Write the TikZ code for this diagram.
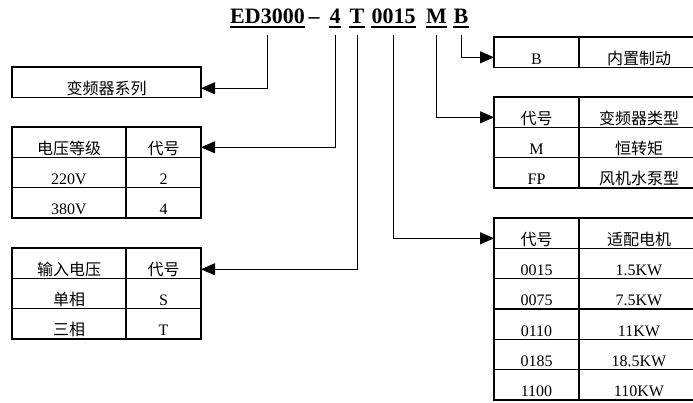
\documentclass[tikz,border=0pt]{standalone}
\usepackage{fontspec}
\setmainfont{Liberation Serif}
\newfontfamily\cjk{Noto Sans CJK SC}
\usetikzlibrary{arrows.meta,positioning}

\tikzset{
  cell/.style={draw, line width=1.4pt, inner sep=0pt, outer sep=0pt,
    minimum height=30.3pt, text height=24pt, text depth=0pt,
    font=\fontsize{16}{16}\selectfont},
  wl/.style={minimum width=114pt},
  wr/.style={minimum width=75pt},
  rl/.style={minimum width=85pt},
  rr/.style={minimum width=120pt},
  code/.style={inner sep=0pt, anchor=base, font=\fontsize{22}{22}\selectfont\bfseries},
  uline/.style={line width=2.2pt},
  link/.style={line width=0.9pt, -{Triangle[length=14pt,width=12pt]}}
}

\begin{document}
\begin{tikzpicture}[x=1pt, y=-1pt]
  \useasboundingbox (0,0) rectangle (693,402);

  % model code
  \node[code] (ed) at (267.5,23) {ED3000};
  \node[code] (dash) at (314,23) {--};
  \node[code] (volt) at (335,23) {4};
  \node[code] (inp) at (357,23) {T};
  \node[code] (pow) at (393.5,23) {0015};
  \node[code] (typ) at (436.5,23) {M};
  \node[code] (brk) at (461,23) {B};
  \foreach \n in {ed,volt,inp,pow,typ,brk}
    \draw[uline] ([yshift=-3.7pt]\n.base west) -- ([yshift=-3.7pt]\n.base east);
  \coordinate (drop) at (0,35);

  % left tables
  \node[cell, minimum width=189pt, anchor=north west] (series) at (12,67) {\cjk 变频器系列};

  \node[cell, wl, anchor=north west] (vh) at (12,127) {\cjk 电压等级};
  \node[cell, wr, right=0pt of vh] (vhc) {\cjk 代号};
  \node[cell, wl, below=0pt of vh] (v1) {220V};
  \node[cell, wr, right=0pt of v1] (v1c) {2};
  \node[cell, wl, below=0pt of v1] (v2) {380V};
  \node[cell, wr, right=0pt of v2] (v2c) {4};

  \node[cell, wl, anchor=north west] (ih) at (12,248) {\cjk 输入电压};
  \node[cell, wr, right=0pt of ih] (ihc) {\cjk 代号};
  \node[cell, wl, below=0pt of ih] (i1) {\cjk 单相};
  \node[cell, wr, right=0pt of i1] (i1c) {S};
  \node[cell, wl, below=0pt of i1] (i2) {\cjk 三相};
  \node[cell, wr, right=0pt of i2] (i2c) {T};

  % right tables
  \node[cell, rl, anchor=north west] (bh) at (494,37) {B};
  \node[cell, rr, right=0pt of bh] (bhc) {\cjk 内置制动};

  \node[cell, rl, anchor=north west] (th) at (494,97) {\cjk 代号};
  \node[cell, rr, right=0pt of th] (thc) {\cjk 变频器类型};
  \node[cell, rl, below=0pt of th] (t1) {M};
  \node[cell, rr, right=0pt of t1] (t1c) {\cjk 恒转矩};
  \node[cell, rl, below=0pt of t1] (t2) {FP};
  \node[cell, rr, right=0pt of t2] (t2c) {\cjk 风机水泵型};

  \node[cell, rl, anchor=north west] (ph) at (494,218) {\cjk 代号};
  \node[cell, rr, right=0pt of ph] (phc) {\cjk 适配电机};
  \node[cell, rl, below=0pt of ph] (p1) {0015};
  \node[cell, rr, right=0pt of p1] (p1c) {1.5KW};
  \node[cell, rl, below=0pt of p1] (p2) {0075};
  \node[cell, rr, right=0pt of p2] (p2c) {7.5KW};
  \node[cell, rl, below=0pt of p2] (p3) {0110};
  \node[cell, rr, right=0pt of p3] (p3c) {11KW};
  \node[cell, rl, below=0pt of p3] (p4) {0185};
  \node[cell, rr, right=0pt of p4] (p4c) {18.5KW};
  \node[cell, rl, below=0pt of p4] (p5) {1100};
  \node[cell, rr, right=0pt of p5] (p5c) {110KW};

  % links
  \draw[link] (ed.south |- drop) |- ([yshift=9pt]series.south east);
  \draw[link] (volt.south |- drop) |- ([yshift=10pt]vhc.south east);
  \draw[link] (inp.south |- drop) |- ([yshift=9pt]ihc.south east);
  \draw[link] (pow.south |- drop) |- ([yshift=10pt]ph.south west);
  \draw[link] (typ.south |- drop) |- ([yshift=10pt]th.south west);
  \draw[link] (brk.south |- drop) |- ([yshift=10pt]bh.south west);
\end{tikzpicture}
\end{document}
